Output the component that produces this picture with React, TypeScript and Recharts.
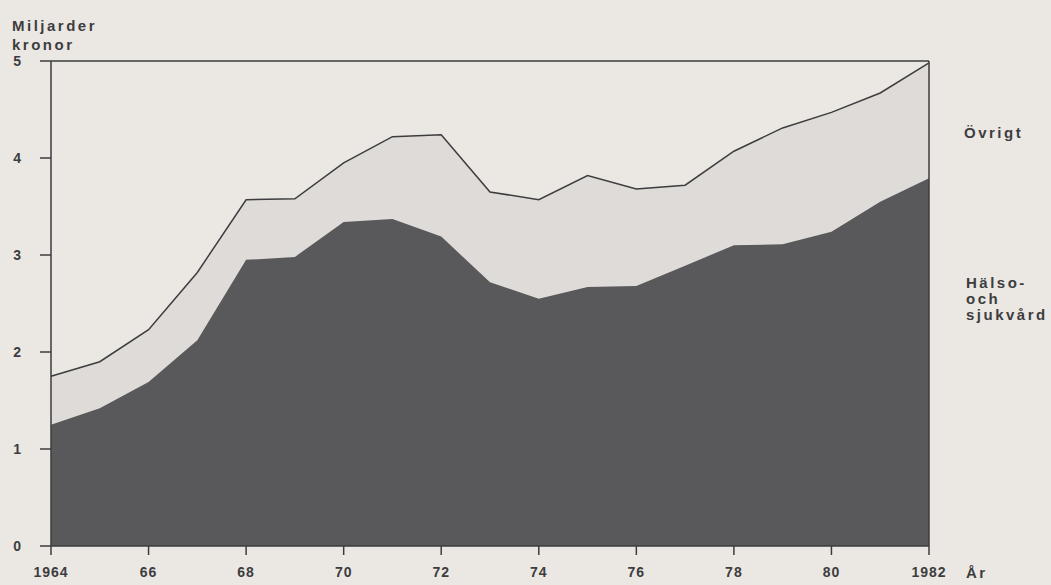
import React from 'react';
import {
  AreaChart,
  Area,
  XAxis,
  YAxis,
  ReferenceLine,
} from 'recharts';

// Values (miljarder kronor)
const years = [1964, 1965, 1966, 1967, 1968, 1969, 1970, 1971, 1972, 1973, 1974, 1975, 1976, 1977, 1978, 1979, 1980, 1981, 1982];
const halsoOchSjukvard = [1.25, 1.42, 1.69, 2.12, 2.95, 2.98, 3.34, 3.37, 3.19, 2.72, 2.55, 2.67, 2.68, 2.89, 3.1, 3.11, 3.24, 3.55, 3.79];
const totalt = [1.75, 1.9, 2.23, 2.82, 3.57, 3.58, 3.95, 4.22, 4.24, 3.65, 3.57, 3.82, 3.68, 3.72, 4.07, 4.31, 4.47, 4.67, 4.98];
const xTicks = [1964, 1966, 1968, 1970, 1972, 1974, 1976, 1978, 1980, 1982];
const yTicks = [0, 1, 2, 3, 4, 5];

const data = years.map((year, i) => ({
  year,
  halso: halsoOchSjukvard[i],
  total: totalt[i],
}));

const ink = '#3d3d3f';
const font = '"Liberation Sans", Arial, sans-serif';

const formatYear = (y: number) =>
  y === 1964 || y === 1982 ? String(y) : String(y).slice(2);

const textStyle: React.CSSProperties = {
  position: 'absolute',
  fontFamily: font,
  fontWeight: 700,
  fontSize: 15,
  letterSpacing: 2.5,
  color: ink,
  lineHeight: '16px',
};

const App: React.FC = () => {
  return (
    <div
      style={{
        position: 'absolute',
        left: 0,
        top: 0,
        width: 1051,
        height: 585,
        background: '#ebe8e3',
        overflow: 'hidden',
      }}
    >
      <AreaChart
        width={1051}
        height={585}
        data={data}
        margin={{ top: 61, right: 122, bottom: 0, left: 0 }}
      >
        <XAxis
          dataKey="year"
          type="number"
          domain={[1964, 1982]}
          ticks={xTicks}
          tickFormatter={formatYear}
          height={39}
          tickSize={9}
          tickMargin={12}
          stroke={ink}
          strokeWidth={1.5}
          tick={{ fill: ink, fontFamily: font, fontWeight: 700, fontSize: 14, letterSpacing: 1 }}
        />
        <YAxis
          type="number"
          domain={[0, 5]}
          ticks={yTicks}
          width={51}
          tickSize={11}
          tickMargin={19}
          stroke={ink}
          strokeWidth={1.5}
          tick={{ fill: ink, fontFamily: font, fontWeight: 700, fontSize: 14 }}
        />
        <Area
          type="linear"
          dataKey="total"
          stroke={ink}
          strokeWidth={1.5}
          fill="#dedbd8"
          fillOpacity={1}
          isAnimationActive={false}
          dot={false}
          activeDot={false}
        />
        <Area
          type="linear"
          dataKey="halso"
          stroke="none"
          fill="#59585a"
          fillOpacity={1}
          isAnimationActive={false}
          dot={false}
          activeDot={false}
        />
        <ReferenceLine y={5} stroke={ink} strokeWidth={1.5} />
        <ReferenceLine x={1982} stroke={ink} strokeWidth={1.5} />
      </AreaChart>

      <div style={{ ...textStyle, left: 12, top: 16, lineHeight: '19px' }}>
        Miljarder
        <br />
        kronor
      </div>
      <div style={{ ...textStyle, left: 964, top: 125 }}>Övrigt</div>
      <div style={{ ...textStyle, left: 966, top: 275 }}>
        Hälso-
        <br />
        och
        <br />
        sjukvård
      </div>
      <div style={{ ...textStyle, left: 966, top: 565 }}>År</div>
    </div>
  );
};

export default App;
